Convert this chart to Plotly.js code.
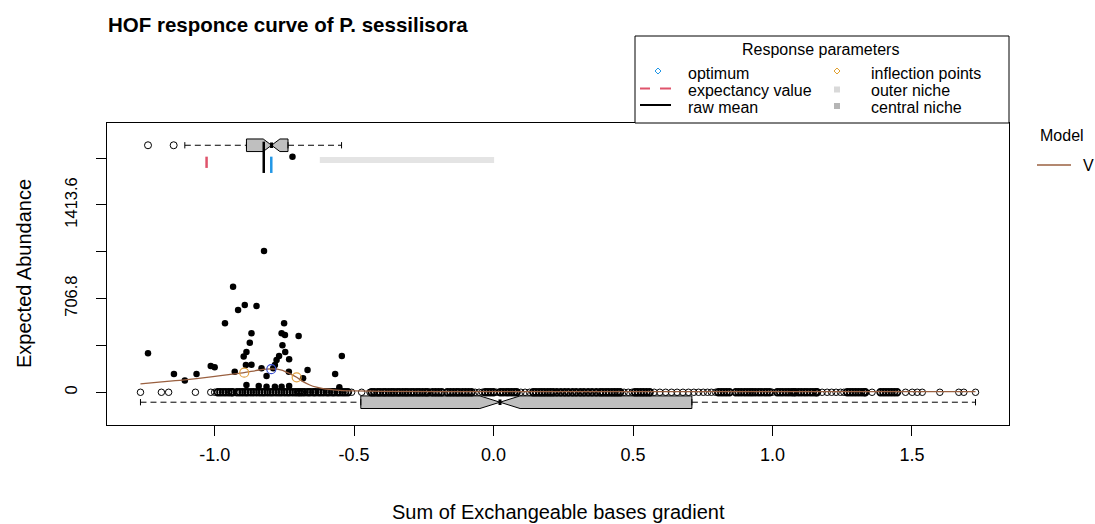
<!DOCTYPE html>
<html><head><meta charset="utf-8">
<script src="https://cdn.plot.ly/plotly-3.0.1.min.js"></script>
<style>html,body{margin:0;padding:0;background:#fff}</style>
</head><body><div id="chart" style="width:1095px;height:524px"></div>
<script>
// ---- data ----
const presenceX = [-1.239,-0.823,-0.934,-0.892,-0.916,-0.850,-0.963,-0.751,-0.868,-0.760,-0.748,-0.699,-0.874,-0.757,-0.886,-0.896,-0.747,-0.769,-0.778,-0.733,-0.544,-1.014,-1.000,-0.888,-0.868,-0.784,-0.790,-0.832,-0.814,-1.146,-1.065,-1.107,-0.928,-0.667,-0.683,-0.568,-0.734,-0.886,-0.842,-0.814,-0.784,-0.760,-0.733,-0.553];
const presenceY = [294,1066,797,659,621,651,521,521,445,445,432,425,374,355,304,269,304,274,244,249,274,198,189,206,208,206,181,181,123,138,138,88,155,168,106,138,155,55,48,42,42,42,48,38];
// zero abundances in dense clusters
const absenceBandX = [-0.989,-0.980,-0.970,-0.960,-0.950,-0.941,-0.935,
 -0.920,-0.910,-0.900,-0.890,-0.881,-0.870,-0.860,-0.851,-0.840,-0.830,-0.821,-0.810,-0.800,-0.791,-0.780,-0.770,-0.761,-0.750,-0.740,-0.731,-0.720,-0.710,-0.701,-0.694,
 -0.686,-0.677,-0.666,-0.658,-0.647,-0.639,-0.628,-0.619,-0.609,-0.598,-0.590,-0.579,-0.571,-0.560,-0.551,-0.541,-0.532,-0.522,
 -0.437,-0.428,-0.416,-0.407,-0.396,-0.387,-0.376,-0.366,-0.357,-0.346,-0.337,-0.326,-0.316,-0.307,-0.296,-0.286,-0.275,-0.266,-0.255,-0.244,-0.236,
 -0.219,-0.208,-0.197,-0.186,-0.166,-0.155,-0.144,-0.133,-0.124,-0.112,-0.101,-0.090,-0.079,
 -0.030,-0.020,-0.010,0.000,0.024,0.034,0.045,0.054,0.064,0.074,0.083,
 0.142,0.152,0.163,0.173,0.183,0.194,0.204,0.214,0.227,0.241,0.255,0.268,0.283,0.296,0.311,0.324,0.339,0.353,0.368,0.382,
 0.392,0.403,0.413,0.424,0.434,0.444,0.454,0.507,0.517,0.528,0.538,0.549,0.560,
 0.806,0.816,0.826,0.836,0.846,0.868,0.878,0.888,0.899,0.909,0.919,0.928,0.938,0.949,0.959,0.970,0.980,0.990,
 1.017,1.027,1.037,1.048,1.058,1.068,1.076,1.082,1.093,1.103,1.114,1.124,1.135,1.145,1.155,1.160,
 1.268,1.278,1.288,1.298,1.308,1.318,1.328,1.333,
 1.387,1.397,1.407,1.417,1.427,1.437,1.447];
// isolated zero abundances
const absenceLooseX = [-1.266,-1.191,-1.165,-1.069,-1.014,-1.000,-0.509,-0.473,-0.443,-0.228,-0.066,-0.052,-0.040,0.011,0.098,0.113,0.129,
 0.468,0.483,0.497,0.576,0.596,0.617,0.638,0.658,0.679,0.699,0.718,0.735,0.752,0.767,0.781,0.796,0.999,1.178,
 1.196,1.212,1.228,1.244,1.256,1.357,1.477,1.501,1.519,1.537,1.600,1.668,1.686,1.728];
const curveX = [-1.266,-1.19,-1.107,-1.006,-0.95,-0.894,-0.84,-0.796,-0.76,-0.733,-0.706,-0.683,-0.659,-0.635,-0.611,-0.58,-0.551,-0.5,-0.4,0,0.5,1.0,1.728];
const curveY = [63,78,93,118,133,148,168,176,168,143,113,80,55,38,27,20,15,11,7,5,5,5,5];
const optimumX = [-0.797];
const optimumY = [174];
const inflectionX = [-0.894,-0.706];
const inflectionY = [148,113];
const expectancyX = [-1.029];
const rawMeanX = [-0.824];
const outerNiche = [-0.623,0.002];
const extraDotX = [-0.721];
// box statistics: [lower whisker, q1, median, q3, upper whisker]
const presenceBox = [-1.107,-0.886,-0.796,-0.737,-0.545];
const presenceNotch = [0.030];
const presenceOutliers = [-1.239,-1.147];
const allBox = [-1.266,-0.476,0.023,0.711,1.728];
const allNotch = [0.072];
const xTickVals = [-1,-0.5,0,0.5,1,1.5];
const xTickText = ['-1.0','-0.5','0.0','0.5','1.0','1.5'];
const yTickVals = [0,353.4,706.8,1060.2,1413.6,1767];
const yTickText = ['0','','706.8','','1413.6',''];

// ---- layout constants (positions in data units of y) ----
const TOP = 1864, BOT = -75, BOXW = 95;
const FONT = 'Liberation Sans, Arial, Helvetica, sans-serif';
const traces = [];

function boxTraces(stats, notch, pos) {
  const [lo,q1,med,q3,hi] = stats;
  const out = [];
  out.push({type:'scatter', mode:'lines', x:[lo,q1,null,q3,hi], y:[pos,pos,null,pos,pos],
    line:{color:'black', width:1, dash:'6px,4px'}, hoverinfo:'skip'});
  out.push({type:'scatter', mode:'lines', x:[lo,lo,null,hi,hi], y:[pos-BOXW/4,pos+BOXW/4,null,pos-BOXW/4,pos+BOXW/4],
    line:{color:'black', width:1}, hoverinfo:'skip'});
  out.push({type:'box', orientation:'h', y:[pos], q1:[q1], median:[med], q3:[q3],
    lowerfence:[q1], upperfence:[q3], notched:true, notchspan:[notch[0]], notchwidth:0.5,
    width:BOXW, fillcolor:'#bfbfbf', line:{color:'black', width:1}, hoverinfo:'skip'});
  out.push({type:'scatter', mode:'lines', x:[med,med], y:[pos-BOXW*0.22,pos+BOXW*0.22],
    line:{color:'black', width:3}, hoverinfo:'skip'});
  return out;
}
traces.push(...boxTraces(allBox, allNotch, BOT));
traces.push(...boxTraces(presenceBox, presenceNotch, TOP));
traces.push({type:'scatter', mode:'markers', x:presenceOutliers, y:presenceOutliers.map(()=>TOP),
  marker:{symbol:'circle-open', size:7, color:'black', line:{width:1}}, hoverinfo:'skip'});

// absences (zero abundance) as open circles
traces.push({type:'scatter', mode:'markers', x:absenceBandX, y:absenceBandX.map(()=>0),
  marker:{symbol:'circle-open', size:6.5, color:'black', line:{width:1.8}}, hoverinfo:'skip'});
traces.push({type:'scatter', mode:'markers', x:absenceLooseX, y:absenceLooseX.map(()=>0),
  marker:{symbol:'circle-open', size:6.5, color:'black', line:{width:1}}, hoverinfo:'skip'});
// presences as filled dots
traces.push({type:'scatter', mode:'markers', x:presenceX, y:presenceY,
  marker:{symbol:'circle', size:6.5, color:'black'}, hoverinfo:'skip'});
// model curve
traces.push({type:'scatter', mode:'lines', x:curveX, y:curveY, line:{color:'#9a6040', width:1.3, shape:'spline', smoothing:0.6}, hoverinfo:'skip'});
traces.push({type:'scatter', mode:'markers', x:inflectionX, y:inflectionY,
  marker:{symbol:'circle-open', size:9, color:'#E0A040', line:{width:1.2}}, hoverinfo:'skip'});
traces.push({type:'scatter', mode:'markers', x:optimumX, y:optimumY,
  marker:{symbol:'circle-open', size:9, color:'#3a4fd0', line:{width:1.2}}, hoverinfo:'skip'});
// niche / parameter marks above
traces.push({type:'scatter', mode:'lines', x:outerNiche, y:[1753,1753], line:{color:'#e4e4e4', width:6}, hoverinfo:'skip'});
traces.push({type:'scatter', mode:'lines', x:[expectancyX[0],expectancyX[0]], y:[1693,1778], line:{color:'#DF536B', width:2.5}, hoverinfo:'skip'});
traces.push({type:'scatter', mode:'lines', x:[rawMeanX[0],rawMeanX[0]], y:[1655,1891], line:{color:'black', width:2.5}, hoverinfo:'skip'});
traces.push({type:'scatter', mode:'lines', x:[optimumX[0],optimumX[0]], y:[1655,1778], line:{color:'#2297E6', width:2.5}, hoverinfo:'skip'});
traces.push({type:'scatter', mode:'markers', x:extraDotX, y:[1778], marker:{symbol:'circle', size:6.5, color:'black'}, hoverinfo:'skip'});
traces.forEach(t=>t.showlegend=false);

// ---- paper helpers (plot area 107..1009 x 123..425 px) ----
const PX = px => (px-107)/902, PY = py => (425-py)/302;
const shapes = [];
const annotations = [];
function ann(text, x, y, opts) {
  annotations.push(Object.assign({text, x:PX(x), y:PY(y), xref:'paper', yref:'paper', showarrow:false,
    xanchor:'left', yanchor:'middle', font:{family:FONT, size:16, color:'black'}}, opts||{}));
}
// legend box
shapes.push({type:'rect', xref:'paper', yref:'paper', x0:PX(635), x1:PX(1009), y0:PY(123), y1:PY(36), line:{color:'black', width:1}, fillcolor:'white'});
ann('Response parameters', 820, 49, {xanchor:'center'});
ann('optimum', 686, 73.5);
ann('expectancy value', 686, 90.5);
ann('raw mean', 686, 107.5);
ann('inflection points', 869, 73.5);
ann('outer niche', 869, 90.5);
ann('central niche', 869, 107.5);
function diamond(cx, cy, color) {
  const dx = 3/902, dy = 3/302, x = PX(cx), y = PY(cy);
  shapes.push({type:'path', xref:'paper', yref:'paper', path:`M${x},${y+dy} L${x+dx},${y} L${x},${y-dy} L${x-dx},${y} Z`, line:{color, width:1}});
}
function square(cx, cy, color) {
  shapes.push({type:'rect', xref:'paper', yref:'paper', x0:PX(cx-3), x1:PX(cx+3), y0:PY(cy+3), y1:PY(cy-3), line:{width:0}, fillcolor:color});
}
diamond(658, 71, '#2297E6');
diamond(837, 71, '#E0A030');
square(837, 89.5, '#d9d9d9');
square(837, 106, '#b5b5b5');
shapes.push({type:'line', xref:'paper', yref:'paper', x0:PX(640), x1:PX(650), y0:PY(88.5), y1:PY(88.5), line:{color:'#DF536B', width:2}});
shapes.push({type:'line', xref:'paper', yref:'paper', x0:PX(660), x1:PX(671), y0:PY(88.5), y1:PY(88.5), line:{color:'#DF536B', width:2}});
shapes.push({type:'line', xref:'paper', yref:'paper', x0:PX(640), x1:PX(671), y0:PY(105), y1:PY(105), line:{color:'black', width:2}});
// model legend
ann('Model', 1038, 135);
shapes.push({type:'line', xref:'paper', yref:'paper', x0:PX(1037), x1:PX(1071), y0:PY(165), y1:PY(165), line:{color:'#9a6040', width:1.3}});
ann('V', 1081, 165.5);
// titles
ann('<b>HOF responce curve of P. sessilisora</b>', 106, 24, {font:{family:FONT, size:20.5, color:'black'}});
ann('Sum of Exchangeable bases gradient', 558, 512, {xanchor:'center', font:{family:FONT, size:20, color:'black'}});
ann('Expected Abundance', 24, 274, {xanchor:'center', textangle:-90, font:{family:FONT, size:20, color:'black'}});

const layout = {
  width:1095, height:524,
  margin:{l:107, r:86, t:123, b:99},
  paper_bgcolor:'white', plot_bgcolor:'white',
  showlegend:false, boxmode:'overlay', hovermode:false,
  font:{family:FONT, color:'black'},
  xaxis:{range:[-1.386,1.848], tickmode:'array', tickvals:xTickVals, ticktext:xTickText,
    ticks:'outside', ticklen:10, tickcolor:'black', tickwidth:1, showline:true, mirror:true,
    linecolor:'black', linewidth:1, showgrid:false, zeroline:false,
    tickfont:{family:FONT, size:18, color:'black'}, ticklabelstandoff:3},
  yaxis:{range:[-247,2032], tickmode:'array', tickvals:yTickVals, ticktext:yTickText, tickangle:-90,
    ticks:'outside', ticklen:10, tickcolor:'black', tickwidth:1, showline:true, mirror:true,
    linecolor:'black', linewidth:1, showgrid:false, zeroline:false,
    tickfont:{family:FONT, size:16.5, color:'black'}, ticklabelstandoff:12},
  shapes, annotations
};
Plotly.newPlot('chart', traces, layout, {staticPlot:true, displayModeBar:false});
</script></body></html>
